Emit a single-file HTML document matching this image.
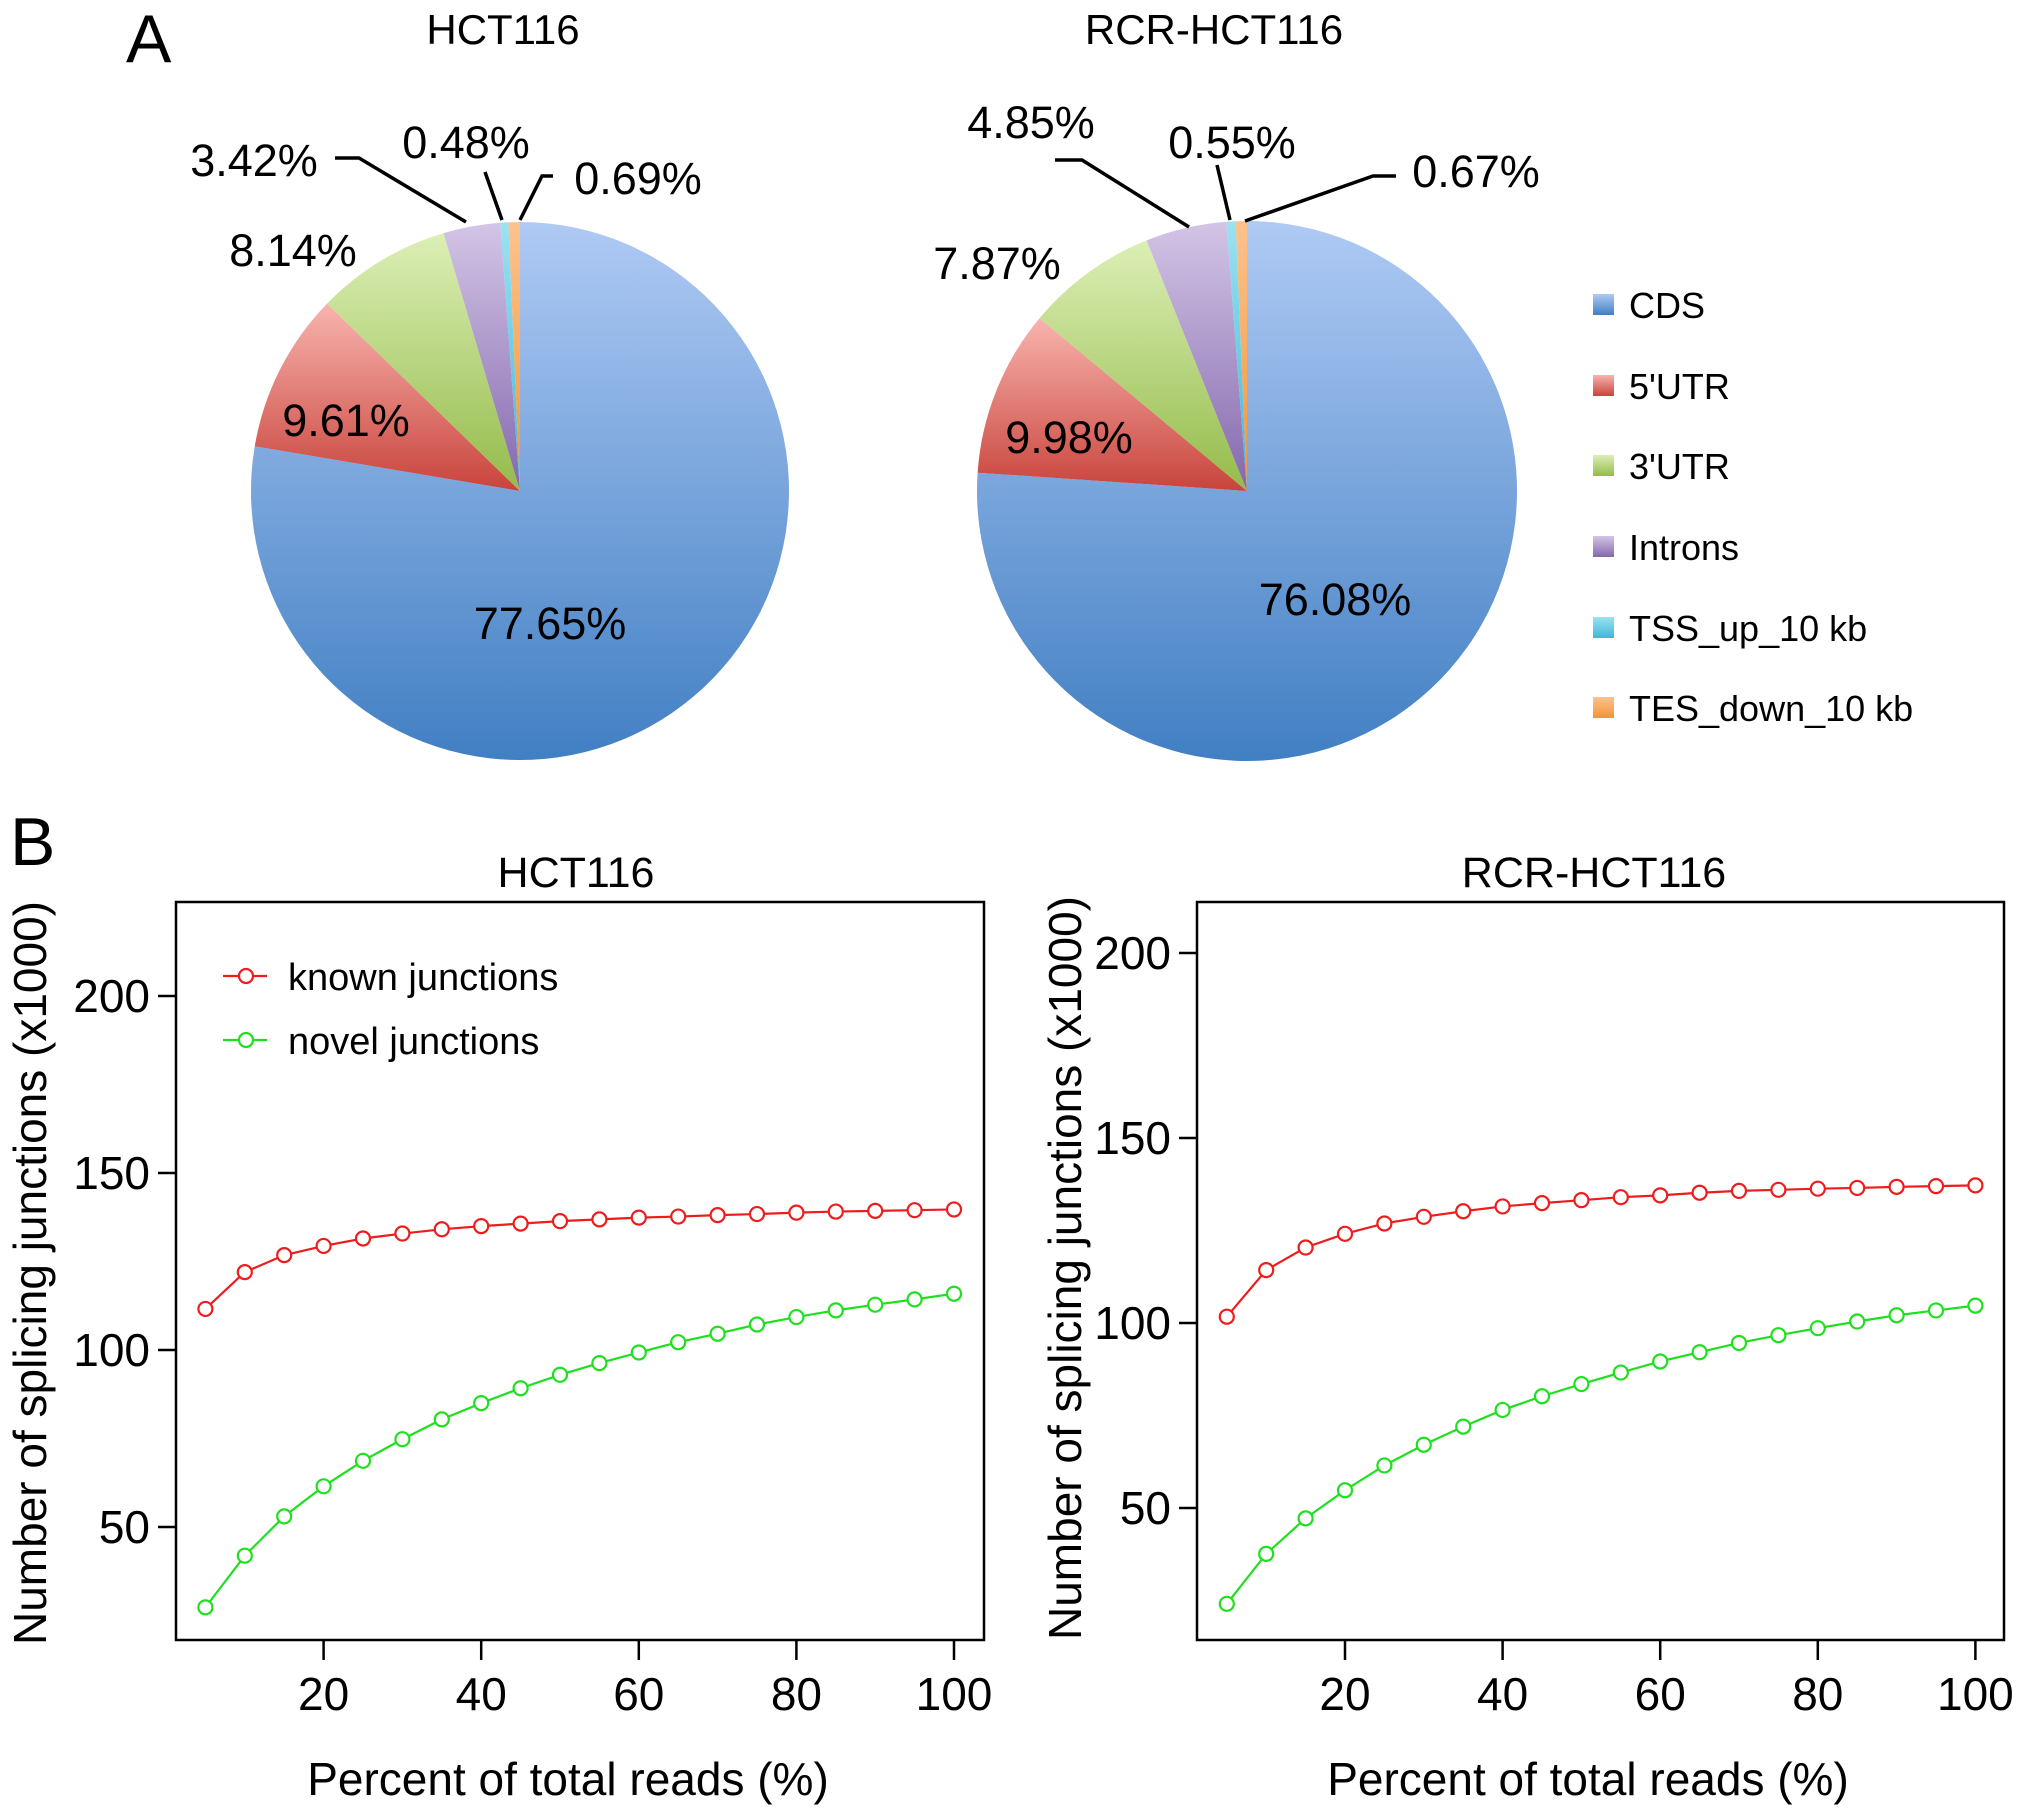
<!DOCTYPE html>
<html><head><meta charset="utf-8"><style>
html,body{margin:0;padding:0;background:#fff}
svg{display:block}
text{font-family:"Liberation Sans",sans-serif;fill:#000}
</style></head><body>
<svg id="fig" width="2031" height="1811" viewBox="0 0 2031 1811">
<defs>
<linearGradient id="gBlue" x1="0" y1="0" x2="0" y2="1"><stop offset="0" stop-color="#afcaf4"/><stop offset="1" stop-color="#417fc3"/></linearGradient>
<linearGradient id="gRed" x1="0" y1="0" x2="0" y2="1"><stop offset="0" stop-color="#f8b4ae"/><stop offset="1" stop-color="#c8443c"/></linearGradient>
<linearGradient id="gGreen" x1="0" y1="0" x2="0" y2="1"><stop offset="0" stop-color="#dcefb6"/><stop offset="1" stop-color="#94bb4a"/></linearGradient>
<linearGradient id="gPurple" x1="0" y1="0" x2="0" y2="1"><stop offset="0" stop-color="#d3c5e6"/><stop offset="1" stop-color="#8468ad"/></linearGradient>
<linearGradient id="gCyan" x1="0" y1="0" x2="0" y2="1"><stop offset="0" stop-color="#9be2f2"/><stop offset="1" stop-color="#3fb8d6"/></linearGradient>
<linearGradient id="gOrange" x1="0" y1="0" x2="0" y2="1"><stop offset="0" stop-color="#fcc38f"/><stop offset="1" stop-color="#f49334"/></linearGradient>
</defs>
<text x="126" y="62" font-size="68">A</text>
<text x="10" y="865" font-size="68">B</text>
<text x="503" y="44" font-size="42" text-anchor="middle">HCT116</text>
<text x="1214" y="44" font-size="42" text-anchor="middle">RCR-HCT116</text>
<g id="pies"></g>
<g id="legend"></g>
<g id="lineplots"></g>
</svg>
<script>
const pieCategories = ["CDS","5'UTR","3'UTR","Introns","TSS_up_10 kb","TES_down_10 kb"];
const pieHCT116 = [77.65, 9.61, 8.14, 3.42, 0.48, 0.69];
const pieRCR = [76.08, 9.98, 7.87, 4.85, 0.55, 0.67];
const xPercent = [5,10,15,20,25,30,35,40,45,50,55,60,65,70,75,80,85,90,95,100];
const knownHCT116 = [111.6,122,126.8,129.4,131.5,132.9,134.1,135,135.7,136.4,136.9,137.4,137.7,138.1,138.4,138.8,139.1,139.3,139.5,139.7];
const novelHCT116 = [27.3,41.9,53,61.5,68.7,74.8,80.4,85,89.2,93,96.3,99.3,102.2,104.6,107.2,109.3,111.2,112.8,114.3,115.9];
const knownRCR = [101.7,114.3,120.4,124.1,126.9,128.7,130.2,131.5,132.4,133.2,134,134.5,135.2,135.7,136,136.3,136.5,136.8,137,137.2];
const novelRCR = [24.1,37.6,47.2,54.8,61.5,67.1,72,76.5,80.2,83.5,86.6,89.6,92.1,94.6,96.7,98.6,100.4,102.1,103.4,104.7];
const xTicks = [20,40,60,80,100];
const yTicks = [50,100,150,200];

const NS = "http://www.w3.org/2000/svg";
function mk(tag, attrs, parent){const e=document.createElementNS(NS,tag);for(const k in attrs)e.setAttribute(k,attrs[k]);if(parent)parent.appendChild(e);return e;}
const fills = ["url(#gBlue)","url(#gRed)","url(#gGreen)","url(#gPurple)","url(#gCyan)","url(#gOrange)"];

function drawPie(vals, cx, cy, r, key, labels, leaders){
  const g = mk("g",{},document.getElementById("pies"));
  
  
  const tot = vals.reduce((a,b)=>a+b,0);
  let a0 = 0;
  vals.forEach((v,i)=>{
    const a1 = a0 + v/tot*2*Math.PI;
    const x0 = cx + r*Math.sin(a0), y0 = cy - r*Math.cos(a0);
    const x1 = cx + r*Math.sin(a1), y1 = cy - r*Math.cos(a1);
    const large = (a1-a0) > Math.PI ? 1 : 0;
    const p = mk("path",{d:`M${cx},${cy} L${x0},${y0} A${r},${r} 0 ${large} 1 ${x1},${y1} Z`, fill:fills[i]}, g);
    
    
    a0 = a1;
  });
  leaders.forEach((pts,i)=>{
    const l = mk("polyline",{points:pts,fill:"none",stroke:"#000","stroke-width":3.5},g);
    
    
  });
  labels.forEach((L,i)=>{
    const t = mk("text",{x:L[0],y:L[1]+16,"font-size":45,"text-anchor":"middle"},g);
    t.textContent = vals[L[2]].toFixed(2)+"%";
    
    
  });
}
drawPie(pieHCT116, 520, 491, 269, "pie-hct116",
  [[550,623,0],[346,420,1],[293,250,2],[254,160,3],[466,142,4],[638,178,5]],
  ["335,158 359,158 466,222","485,172 502,220","553,176 542,176 520,220"]);
drawPie(pieRCR, 1247, 491, 270, "pie-rcr-hct116",
  [[1335,599,0],[1069,437,1],[997,263,2],[1031,122,3],[1232,142,4],[1476,171,5]],
  ["1055,160 1082,160 1189,227","1217,165 1230,220","1396,176 1373,176 1245,221"]);

const lg = document.getElementById("legend");
const legY = [305,386,466,547,628,708];
pieCategories.forEach((c,i)=>{
  const gg = mk("g",{},lg);
  
  
  mk("rect",{x:1593,y:legY[i]-11,width:21,height:21,fill:fills[i]},gg);
  const t = mk("text",{x:1629,y:legY[i]+13,"font-size":36},gg);
  t.textContent = c;
});

function drawLine(cfg){
  const g = mk("g",{},document.getElementById("lineplots"));
  
  
  const xs = v => cfg.x20 + (v-20)*cfg.xu;
  const ys = v => cfg.y200 + (200-v)*cfg.yu;
  const box = mk("rect",{x:cfg.L,y:902,width:cfg.R-cfg.L,height:738,fill:"none",stroke:"#000","stroke-width":2.5},g);
  
  
  xTicks.forEach(v=>{
    mk("line",{x1:xs(v),x2:xs(v),y1:1640,y2:1660,stroke:"#000","stroke-width":2.5},g);
    const t = mk("text",{x:xs(v),y:1710,"font-size":46,"text-anchor":"middle"},g);
    t.textContent = v;
    
    
  });
  yTicks.forEach(v=>{
    if(ys(v) < 902) return;
    mk("line",{x1:cfg.L,x2:cfg.L-18,y1:ys(v),y2:ys(v),stroke:"#000","stroke-width":2.5},g);
    const t = mk("text",{x:cfg.L-26,y:ys(v)+16,"font-size":46,"text-anchor":"end"},g);
    t.textContent = v;
    
    
  });
  [[cfg.known,"#ee1c1c","known-junctions-series"],[cfg.novel,"#1ee01e","novel-junctions-series"]].forEach(([arr,col,nm])=>{
    const sg = mk("g",{},g);
    
    
    mk("polyline",{points:arr.map((v,i)=>xs(xPercent[i])+","+ys(v)).join(" "),fill:"none",stroke:col,"stroke-width":2.2},sg);
    arr.forEach((v,i)=>{
      const c = mk("circle",{cx:xs(xPercent[i]),cy:ys(v),r:7,fill:"#fff",stroke:col,"stroke-width":2.2},sg);
      
      
    });
  });
  const tt = mk("text",{x:cfg.titleX,y:887,"font-size":43,"text-anchor":"middle"},g);
  tt.textContent = cfg.title;
  
  
  const xt = mk("text",{x:cfg.xtX,y:1795,"font-size":46,"text-anchor":"middle"},g);
  xt.textContent = "Percent of total reads (%)";
  
  
  const yt = mk("text",{x:0,y:0,"font-size":46,"text-anchor":"middle",transform:`translate(${cfg.ytX},${cfg.ytY}) rotate(-90)`},g);
  yt.textContent = "Number of splicing junctions (x1000)";
  
  
  if(cfg.legend){
    [["known junctions","#ee1c1c",976],["novel junctions","#1ee01e",1040]].forEach(([lab,col,y])=>{
      const lgg = mk("g",{},g);
      
      
      mk("line",{x1:223,x2:267,y1:y,y2:y,stroke:col,"stroke-width":2.2},lgg);
      mk("circle",{cx:246,cy:y,r:7,fill:"#fff",stroke:col,"stroke-width":2.2},lgg);
      const t = mk("text",{x:288,y:y+14,"font-size":38},lgg);
      t.textContent = lab;
    });
  }
}
drawLine({key:"line-plot-hct116",L:176,R:984,x20:323.6,xu:7.88,y200:996,yu:3.54,known:knownHCT116,novel:novelHCT116,title:"HCT116",titleX:576,xtX:568,ytX:46,ytY:1273,legend:true});
drawLine({key:"line-plot-rcr-hct116",L:1197,R:2004,x20:1345,xu:7.88,y200:953,yu:3.7,known:knownRCR,novel:novelRCR,title:"RCR-HCT116",titleX:1594,xtX:1588,ytX:1081,ytY:1268,legend:false});
</script>
</body></html>
